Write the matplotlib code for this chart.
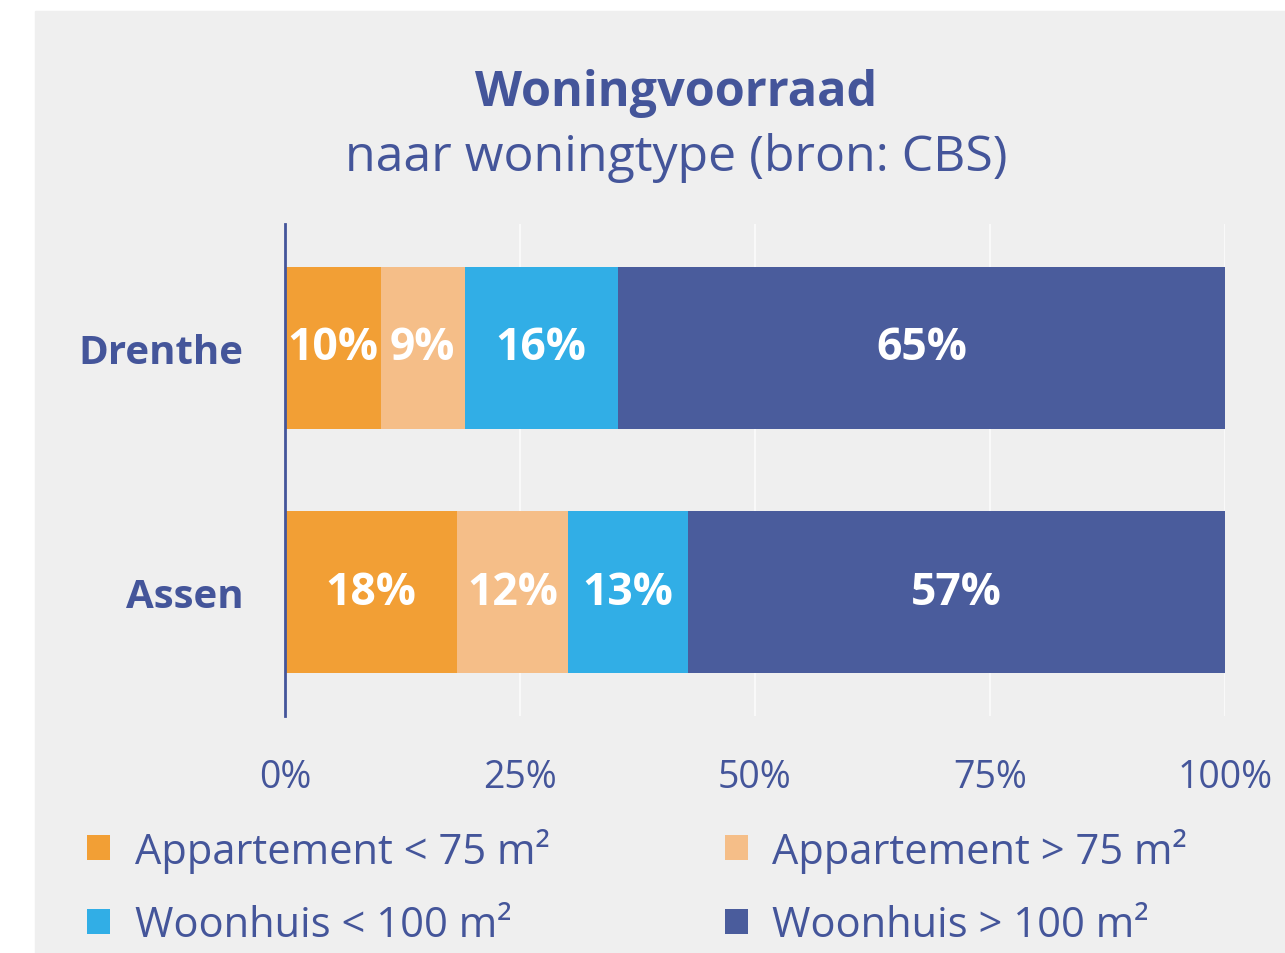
import matplotlib.pyplot as plt
from matplotlib.patches import Patch, Rectangle
import numpy as np

# --------------------
# Data
# --------------------
regions = ["Assen", "Drenthe"]
series = ["Appartement < 75 m²", "Appartement > 75 m²",
          "Woonhuis < 100 m²", "Woonhuis > 100 m²"]
app_small = np.array([18.3, 10.2])
app_large = np.array([11.8, 8.9])
house_small = np.array([12.8, 16.3])
house_large = np.array([57.1, 64.6])
xticks = [0, 25, 50, 75, 100]

colors = ["#F29F35", "#F5BE88", "#31AEE6", "#4A5C9C"]
navy = "#44559A"

plt.rcParams["font.family"] = ["Open Sans", "DejaVu Sans"]

fig = plt.figure(figsize=(12.85, 9.54), dpi=100, facecolor="white")
# grey panel behind the chart
fig.patches.append(Rectangle((35 / 1285, 0), 1 - 35 / 1285, 1 - 12 / 954,
                             transform=fig.transFigure, color="#EFEFEF",
                             zorder=-5))

ax = fig.add_axes([285 / 1285, 1 - 717 / 954, 940 / 1285, 492 / 954])
ax.set_facecolor("none")

y = np.arange(len(regions))
left = np.zeros(len(regions))
for vals, col in zip([app_small, app_large, house_small, house_large], colors):
    ax.barh(y, vals, left=left, height=0.66, color=col, zorder=2)
    for yi, l, v in zip(y, left, vals):
        ax.text(l + v / 2, yi, f"{v:.0f}%", ha="center", va="center",
                color="white", fontsize=32, fontweight="bold", zorder=3)
    left += vals

ax.set_xlim(0, 100)
ax.set_ylim(-0.508, 1.508)
ax.set_xticks(xticks)
ax.set_xticklabels([f"{t}%" for t in xticks])
ax.set_yticks(y)
ax.set_yticklabels(regions, fontweight="bold")
ax.tick_params(axis="x", length=0, labelsize=27, labelcolor=navy, pad=30)
ax.tick_params(axis="y", length=0, labelsize=29, labelcolor=navy, pad=30)
ax.xaxis.grid(True, color="#F9F9F9", linewidth=1.5, zorder=1)
ax.set_axisbelow(True)
for s in ["top", "right", "bottom"]:
    ax.spines[s].set_visible(False)
ax.spines["left"].set_color(navy)
ax.spines["left"].set_linewidth(2)
ax.spines["left"].set_zorder(4)

# --------------------
# Titles
# --------------------
fig.text(676 / 1285, 1 - 93 / 954, "Woningvoorraad", ha="center", va="center",
         fontsize=35, fontweight="bold", color=navy)
fig.text(676 / 1285, 1 - 158 / 954, "naar woningtype (bron: CBS)",
         ha="center", va="center", fontsize=36, color=navy)

# --------------------
# Legend (row-wise order, as in the original)
# --------------------
handles = [Patch(facecolor=c, edgecolor="none") for c in colors]
order = [0, 2, 1, 3]
fig.legend([handles[i] for i in order], [series[i] for i in order],
           ncol=2, loc="upper left",
           bbox_to_anchor=(70 / 1285, 1 - 812 / 954), frameon=False,
           fontsize=30, labelcolor=navy, handlelength=0.55, handleheight=0.55,
           handletextpad=0.6, columnspacing=4.2, labelspacing=0.75,
           borderaxespad=0)

plt.savefig("out.png", dpi=100, facecolor="white")
